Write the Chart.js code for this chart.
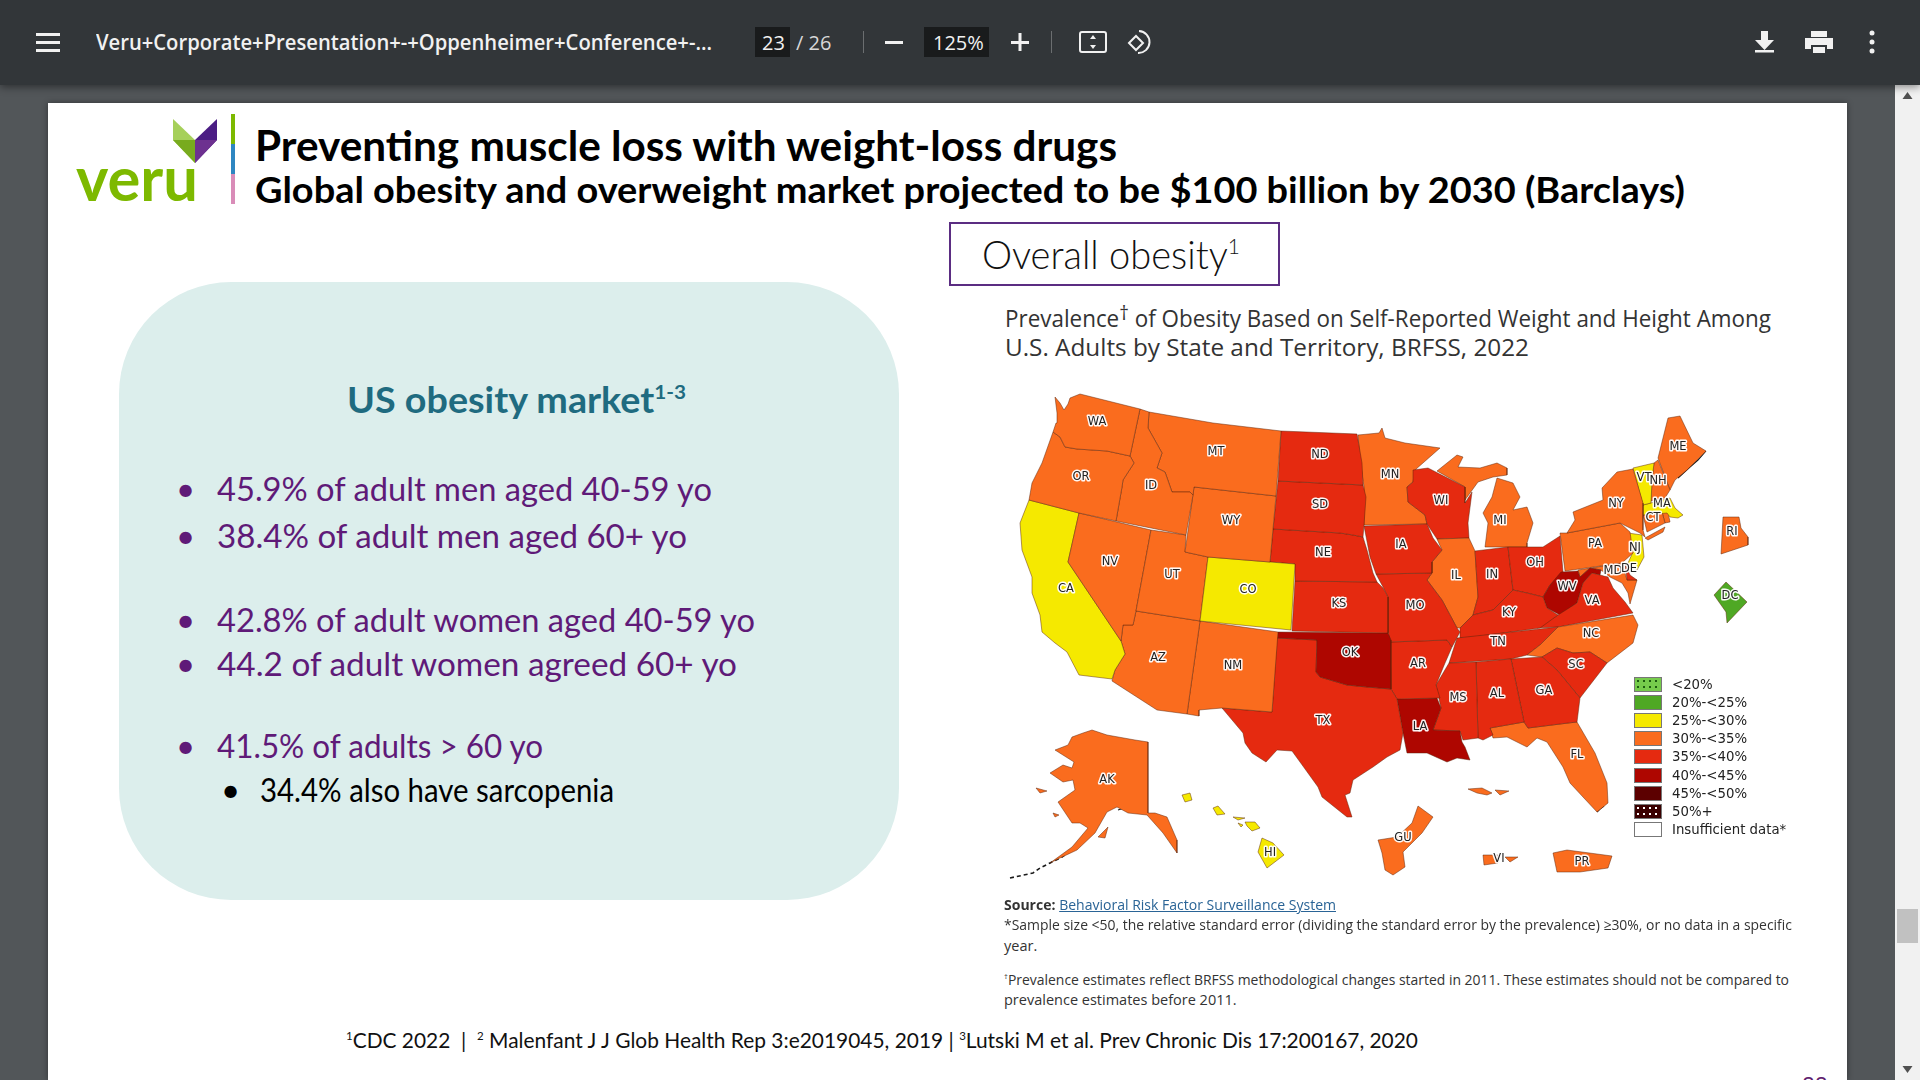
<!DOCTYPE html>
<html>
<head>
<meta charset="utf-8">
<title>Overall obesity</title>
<script src="https://cdn.jsdelivr.net/npm/chart.js@4.4.0/dist/chart.umd.js"></script>
<style>
html, body { margin: 0; width: 1920px; height: 1080px; overflow: hidden; background: #525659; }
.t { position: absolute; white-space: nowrap; line-height: 1; transform-origin: left center; }
.gothic { font-family: Lato, 'Noto Sans', sans-serif; }
.open { font-family: 'Open Sans', sans-serif; }
sup { font-size: 55%; line-height: 0; vertical-align: baseline; position: relative; top: -0.7em; }
sup.dag { font-size: 85%; top: -0.35em; }
#toolbar { position: absolute; left: 0; top: 0; width: 1920px; height: 85px; background: #323639; box-shadow: 0 2px 8px rgba(0,0,0,.45); z-index: 3; }
#toolbar .t { color: #f1f1f1; font-family: 'Open Sans', sans-serif; font-size: 20px; top: 33px; }
.box { position: absolute; top: 27px; height: 30px; background: #191b1c; }
.div { position: absolute; top: 31px; width: 1px; height: 22px; background: #6b6e70; }
#toolbar svg { position: absolute; left: 0; top: 0; }
#page { position: absolute; left: 48px; top: 103px; width: 1799px; height: 977px; background: #fff; box-shadow: 0 0 6px rgba(0,0,0,.4); }
#scroll { position: absolute; left: 1895px; top: 85px; width: 25px; height: 995px; background: #f1f1f1; z-index: 2; }
#thumb { position: absolute; left: 2px; top: 824px; width: 21px; height: 34px; background: #c1c1c1; }
#panel { position: absolute; left: 119px; top: 282px; width: 780px; height: 618px; border-radius: 112px; background: #dceeec; }
#frame { position: absolute; left: 949px; top: 222px; width: 327px; height: 60px; border: 2px solid #5b2d82; }
#mapWrap { position: absolute; left: 1000px; top: 380px; width: 800px; height: 520px; }
.sw { position: absolute; left: 1634px; width: 26px; height: 13px; border: 1px solid #777; }
.bar { position: absolute; left: 231px; width: 4px; }
.bullet { font-size: 33px; font-weight: 400; }
.src { font-size: 14.5px; color: #333; }
</style>
</head>
<body>
<div id="toolbar">
  <svg width="1920" height="85" fill="#f1f1f1">
    <rect x="36" y="33" width="24" height="3"/><rect x="36" y="41" width="24" height="3"/><rect x="36" y="49" width="24" height="3"/>
    <rect x="885" y="41" width="18" height="3"/>
    <rect x="1011" y="41" width="18" height="3"/><rect x="1018.5" y="33" width="3" height="18"/>
    <rect x="1080" y="32" width="26" height="20" rx="2" fill="none" stroke="#f1f1f1" stroke-width="2"/>
    <path d="M1093 35l-3 4h6zM1093 49l-3-4h6z"/>
    <path d="M1139 31a11 11 0 1 1 -1 22" fill="none" stroke="#f1f1f1" stroke-width="2"/>
    <path d="M1129 43l7-7 7 7-7 7z" fill="none" stroke="#f1f1f1" stroke-width="2"/>
    <path d="M1761 31h7v9h6l-9.500 10-9.500-10h6z"/><rect x="1755" y="50" width="19" height="2.500"/>
    <path d="M1811 31h16v6h-16zM1805 38h28v11h-6v-4h-16v4h-6zM1813 47h12v6h-12z"/>
    <circle cx="1872" cy="33" r="2.500"/><circle cx="1872" cy="42" r="2.500"/><circle cx="1872" cy="51" r="2.500"/>
  </svg>
  <div class="t" data-w="616" style="left:96px;font-size:21px;top:32px;font-weight:600">Veru+Corporate+Presentation+-+Oppenheimer+Conference+-...</div>
  <div class="box" style="left:755px;width:35px"></div>
  <div class="t" style="left:762px">23</div>
  <div class="t" style="left:796px;color:#d8d8d8">/ 26</div>
  <div class="div" style="left:863px"></div>
  <div class="box" style="left:924px;width:65px"></div>
  <div class="t" style="left:933px">125%</div>
  <div class="div" style="left:1051px"></div>
</div>

<div id="page"></div>
<div id="scroll">
  <div id="thumb"></div>
  <svg width="25" height="995" style="position:absolute;left:0;top:0" fill="#505050">
    <path d="M12.500 7l5 7h-10z"/><path d="M12.500 988l5-7h-10z"/>
  </svg>
</div>

<!-- logo -->
<svg width="240" height="110" style="position:absolute;left:0;top:110px">
  <path d="M173 9l22 21v23l-22-23z" fill="#a6d05a"/>
  <path d="M173 30h22v23z" fill="#78ab1e"/>
  <path d="M217 9l-22 21v23l22-23z" fill="#4b1d84"/>
  <path d="M217 30h-22v23z" fill="#6d3190"/>
</svg>
<div class="t" data-w="122" style="left:76px;top:146px;font:bold 62px/1 Lato,sans-serif;color:#7db900">veru</div>
<div class="bar" style="top:114px;height:30px;background:#7db900"></div>
<div class="bar" style="top:144px;height:30px;background:#2e86c1"></div>
<div class="bar" style="top:174px;height:30px;background:#d98cb8"></div>

<div class="t gothic" data-w="862" style="left:255px;top:124px;font-size:42px;font-weight:700;color:#000">Preventing muscle loss with weight-loss drugs</div>
<div class="t gothic" data-w="1430" style="left:255px;top:170px;font-size:37px;font-weight:700;color:#000">Global obesity and overweight market projected to be $100 billion by 2030 (Barclays)</div>

<div id="frame"></div>
<div class="t gothic" data-w="258" style="left:982px;top:235px;font-size:39px;font-weight:300;color:#111">Overall obesity<sup>1</sup></div>

<div id="panel"></div>
<div class="t gothic" data-w="339" style="left:347px;top:381px;font-size:36px;font-weight:700;color:#1f6b80">US obesity market<sup>1-3</sup></div>
<div id="bullets"></div>

<div class="t open" data-w="766" style="left:1005px;top:307px;font-size:23px;color:#333">Prevalence<sup class="dag">†</sup> of Obesity Based on Self-Reported Weight and Height Among</div>
<div class="t open" data-w="524" style="left:1005px;top:336px;font-size:23px;color:#333">U.S. Adults by State and Territory, BRFSS, 2022</div>

<div id="mapWrap"><canvas id="mapChart" width="800" height="520"></canvas></div>
<div id="legendBox"></div>

<div class="t open src" data-w="332" style="left:1004px;top:898px"><b>Source:</b> <span style="color:#2a6496;text-decoration:underline">Behavioral Risk Factor Surveillance System</span></div>
<div class="t open src" data-w="788" style="left:1004px;top:918px">*Sample size &lt;50, the relative standard error (dividing the standard error by the prevalence) ≥30%, or no data in a specific</div>
<div class="t open src" style="left:1004px;top:939px">year.</div>
<div class="t open src" data-w="785" style="left:1004px;top:973px"><sup>†</sup>Prevalence estimates reflect BRFSS methodological changes started in 2011. These estimates should not be compared to</div>
<div class="t open src" style="left:1004px;top:993px">prevalence estimates before 2011.</div>

<div class="t gothic" data-w="1072" style="left:346px;top:1029px;font-size:22px;font-weight:400;color:#111"><sup>1</sup>CDC 2022 &nbsp;|&nbsp; <sup>2</sup> Malenfant J J Glob Health Rep 3:e2019045, 2019 | <sup>3</sup>Lutski M et al. Prev Chronic Dis 17:200167, 2020</div>
<div class="t gothic" style="left:1802px;top:1073px;font-size:22px;color:#5f2170">23</div>

<script>
// ─── Data ───────────────────────────────────────────────────
const legendLabels = ['<20%', '20%-<25%', '25%-<30%', '30%-<35%', '35%-<40%', '40%-<45%', '45%-<50%', '50%+', 'Insufficient data*'];
const bandColors = ['#76cc4c', '#4fa824', '#f5e900', '#fa6c1e', '#e52a10', '#ae0600', '#5c0000', '#3a0000', '#ffffff'];

const bulletLines = [
    '45.9% of adult men aged 40-59 yo',
    '38.4% of adult men aged 60+ yo',
    '42.8% of adult women aged 40-59 yo',
    '44.2 of adult women agreed 60+ yo',
    '41.5% of adults > 60 yo'
];
const subBullet = '34.4% also have sarcopenia';

// outlines in map units, as flat x,y lists
const WA = [1055,397,1060,403,1064,410,1068,404,1070,398,1080,394,1140,409,1130,456,1107,451,1077,449,1065,447,1060,437,1053,432,1056,423,1057,413];
const OR = [1053,432,1060,437,1065,447,1077,449,1107,451,1130,456,1134,463,1123,480,1122,487,1116,521,1079,513,1029,500,1032,483,1042,463];
const ID = [1140,409,1149,412,1148,428,1162,453,1157,468,1165,472,1172,492,1190,492,1193,495,1186,535,1116,521,1122,487,1123,480,1134,463,1130,456];
const MT = [1149,412,1213,423,1281,431,1276,496,1194,487,1193,495,1190,492,1172,492,1165,472,1157,468,1162,453,1148,428];
const WY = [1194,487,1276,496,1270,562,1208,557,1185,552];
const CO = [1208,557,1295,564,1291,630,1200,621];
const UT = [1151,530,1186,535,1185,552,1208,557,1200,621,1136,611];
const NV = [1079,513,1151,530,1136,611,1133,625,1123,625,1121,641,1068,562];
const CA = [1029,500,1079,513,1068,562,1121,641,1125,654,1115,670,1112,679,1079,675,1067,652,1055,643,1042,632,1040,615,1032,593,1032,577,1022,550,1020,523];
const AZ = [1123,625,1133,625,1136,611,1200,621,1187,714,1157,710,1112,681,1115,670,1125,654,1121,641];
const NM = [1200,621,1278,632,1272,712,1222,708,1199,710,1199,716,1187,714];
const ND = [1281,431,1357,434,1362,463,1363,485,1278,481];
const SD = [1278,481,1363,485,1366,497,1364,525,1363,537,1353,535,1340,533,1273,529];
const NE = [1273,529,1340,533,1353,535,1363,537,1367,550,1373,573,1377,582,1295,581,1295,564,1270,562];
const KS = [1295,581,1377,582,1383,588,1388,597,1388,633,1292,631];
const OK = [1278,632,1388,633,1391,640,1391,689,1367,687,1347,685,1320,677,1316,672,1317,640,1277,638];
const TX = [1277,638,1317,640,1316,672,1320,677,1347,685,1367,687,1391,689,1397,699,1403,733,1400,750,1387,757,1373,767,1353,780,1350,793,1345,795,1352,817,1347,817,1322,797,1318,787,1300,762,1292,751,1277,750,1266,762,1252,753,1245,743,1243,733,1222,708,1272,712];
const IA = [1364,526,1427,524,1433,538,1442,550,1432,562,1432,573,1376,574,1370,557];
const MO = [1376,574,1432,573,1427,580,1442,600,1457,628,1460,632,1452,647,1447,640,1390,642,1388,632,1388,597,1383,587];
const AR = [1390,642,1447,640,1452,647,1445,663,1436,685,1440,698,1397,699,1391,689];
const LA = [1397,699,1437,698,1441,708,1433,730,1460,731,1462,742,1465,747,1470,760,1457,758,1447,762,1427,753,1407,753,1403,733];
const MS = [1449,663,1476,662,1478,738,1463,740,1460,731,1433,730,1441,708,1436,685];
const AL = [1476,662,1511,659,1524,722,1490,728,1493,735,1483,740,1478,738];
const GA = [1511,659,1542,657,1557,670,1580,698,1577,722,1568,723,1528,728,1524,722];
const SC = [1542,657,1557,648,1573,653,1590,652,1607,663,1590,685,1580,698,1557,670];
const FL = [1490,728,1524,722,1528,728,1568,723,1577,722,1595,753,1607,783,1608,803,1597,812,1583,797,1570,783,1563,767,1547,742,1537,738,1527,747,1507,737,1493,738];
const NC = [1527,655,1540,645,1558,627,1633,615,1638,625,1633,643,1607,663,1590,652,1573,653,1557,648,1542,657];
const TN = [1457,638,1558,627,1540,645,1527,655,1511,659,1449,663];
const KY = [1460,628,1473,615,1493,610,1513,590,1527,593,1543,597,1547,608,1558,615,1540,628,1474,637,1460,638];
const VA = [1537,628,1558,615,1577,603,1583,583,1592,573,1600,575,1608,577,1613,588,1625,602,1633,613,1558,627];
const WV = [1543,597,1550,585,1561,572,1578,571,1580,577,1590,568,1601,570,1600,575,1592,573,1583,583,1577,603,1560,615,1547,608];
const OH = [1508,547,1527,547,1543,547,1560,536,1563,572,1550,585,1543,597,1527,593,1513,590];
const IN = [1475,551,1508,547,1513,590,1493,610,1473,615,1478,597];
const IL = [1437,539,1469,538,1475,551,1478,597,1473,615,1460,628,1457,628,1442,600,1427,580,1432,573,1432,562,1442,550];
const WI = [1413,470,1428,468,1465,487,1465,503,1472,492,1468,523,1469,538,1437,539,1427,524,1425,515,1408,502,1407,487,1413,482];
const MN = [1358,435,1379,433,1382,428,1385,438,1405,443,1440,448,1415,470,1413,482,1407,487,1408,502,1425,515,1427,524,1364,525,1364,487,1360,460];
const MIupper = [1437,471,1457,455,1463,457,1458,467,1480,468,1497,463,1507,468,1507,475,1493,477,1478,482,1465,500,1465,487];
const MIlower = [1497,478,1513,483,1520,497,1513,510,1527,507,1533,523,1527,543,1527,547,1485,547,1488,523,1483,513,1492,497];
const NY = [1633,469,1643,503,1643,530,1645,537,1640,533,1620,523,1567,533,1575,520,1573,512,1603,500,1602,488,1617,472];
const longIsland = [1645,538,1665,527,1663,532,1648,540];
const PA = [1560,533,1567,533,1620,523,1630,532,1633,553,1622,563,1565,571];
const NJ = [1628,533,1642,535,1644,557,1637,570,1628,563,1633,552];
const DE = [1625,563,1630,575,1637,580,1627,580];
const MD = [1578,570,1622,563,1627,580,1637,580,1630,604,1628,593,1622,583,1610,577,1601,570,1590,568,1580,577];
const VT = [1633,468,1654,463,1652,480,1651,503,1643,505];
const NH = [1654,463,1658,460,1670,490,1665,498,1651,501,1652,480];
const ME = [1658,458,1668,418,1680,416,1693,443,1706,451,1687,470,1675,480,1670,490];
const MA = [1643,505,1670,498,1675,508,1683,515,1678,518,1670,517,1667,513,1643,515];
const CT = [1643,515,1662,512,1665,523,1647,532];
const RI = [1662,512,1668,512,1670,522,1665,523];
const RIinset = [1723,517,1739,517,1741,528,1748,537,1748,545,1742,547,1721,554];
const DCinset = [1726,582,1747,602,1727,623,1726,612,1714,595];
const AK = [1092,730,1107,735,1135,740,1148,742,1148,813,1155,813,1167,817,1177,840,1177,853,1163,833,1147,815,1128,813,1117,807,1107,812,1095,833,1077,850,1060,858,1050,863,1072,847,1088,828,1080,823,1072,823,1068,817,1058,802,1075,790,1073,780,1063,782,1050,773,1063,765,1072,768,1074,762,1055,750,1068,745,1072,737,1083,733];
const kodiak = [1098,837,1108,827,1105,838];
const stLawrence = [1036,788,1047,791,1040,793];
const nunivak = [1053,813,1059,815,1055,817];
const bigIsland = [1262,838,1273,843,1284,855,1267,868,1258,852];
const maui = [1245,822,1255,822,1260,828,1252,831,1247,826];
const molokai = [1233,817,1245,818,1238,820];
const lanai = [1238,823,1243,825,1241,827];
const oahu = [1213,808,1218,806,1225,814,1217,815];
const kauai = [1182,795,1190,793,1192,800,1185,802];
const GU = [1418,806,1433,817,1422,833,1403,852,1405,867,1393,875,1385,870,1382,853,1378,840,1397,837,1412,823];
const VImain = [1483,855,1498,855,1498,863,1484,865];
const VIeast = [1505,857,1518,857,1510,862];
const PR = [1553,853,1567,850,1612,856,1608,868,1580,872,1557,872];
const isleWest = [1468,789,1482,788,1492,793,1487,795,1477,793];
const isleEast = [1495,790,1509,791,1500,795];

const shapeLists = [WA,OR,ID,MT,WY,CO,UT,NV,CA,AZ,NM,ND,SD,NE,KS,OK,TX,IA,MO,AR,LA,MS,AL,GA,SC,FL,NC,TN,KY,VA,WV,OH,IN,IL,WI,MN,MIupper,MIlower,NY,longIsland,PA,NJ,DE,MD,VT,NH,ME,MA,CT,RI,RIinset,DCinset,AK,kodiak,stLawrence,nunivak,bigIsland,maui,molokai,lanai,oahu,kauai,GU,VImain,VIeast,PR,isleWest,isleEast];
// legend band per shape, same order as shapeLists
const shapeBands = [3,3,3,3,3,2,3,3,2,3,3,4,4,4,4,5,4,4,4,4,5,4,4,4,4,3,3,4,4,4,5,4,4,3,4,3,3,3,3,3,3,2,4,3,2,3,3,2,3,3,3,1,3,3,3,3,2,2,2,2,2,2,3,3,3,3,3,3];

// dark coast scribbles (fjords, island chains)
const pugetSound = [1075,397,1078,403,1072,417,1068,420,1075,422,1078,410];
const aleutians = [1010,878,1033,873,1040,868,1050,863,1062,857,1072,850,1080,846];
const alaskaSouth = [1163,818,1168,826,1172,835,1176,850];
const princeWilliam = [1118,810,1124,808,1129,812];
const mainePoints = [1706,451,1698,460,1690,467,1678,478];
const floridaKeys = [1597,812,1600,809,1604,806];
const detailLines = [pugetSound, aleutians, alaskaSouth, princeWilliam, mainePoints, floridaKeys];

const labelCodes = ['WA','OR','ID','MT','ND','SD','WY','NE','UT','NV','CA','CO','KS','AZ','NM','OK','MN','IA','MO','AR','WI','IL','MI','IN','OH','KY','TN','WV','VA','PA','NY','VT','NH','ME','MA','CT','NJ','MD','DE','RI','DC','NC','SC','MS','AL','GA','LA','FL','TX','AK','HI','GU','VI','PR'];
const labelX = [1097,1081,1151,1216,1320,1320,1231,1323,1172,1110,1066,1248,1339,1158,1233,1350,1390,1401,1415,1418,1441,1456,1500,1492,1535,1509,1498,1567,1592,1595,1616,1644,1658,1678,1662,1653,1635,1613,1629,1732,1730,1591,1576,1458,1497,1544,1420,1577,1323,1107,1270,1403,1499,1582];
const labelY = [422,477,486,452,455,505,521,553,575,562,589,590,604,658,666,653,475,545,606,664,501,576,521,575,563,613,642,587,601,544,504,478,481,447,504,518,548,571,569,532,596,634,665,698,694,691,727,755,721,780,853,838,859,862];

// ─── Map ────────────────────────────────────────────────────
function toPoints(flat, closed) {
    const pts = [];
    for (let i = 0; i < flat.length; i += 2) pts.push({ x: flat[i], y: flat[i + 1] });
    if (closed) pts.push(pts[0]);
    return pts;
}

const stateLabels = {
    id: 'stateLabels',
    afterDatasetsDraw(chart) {
        const { ctx, scales } = chart;
        ctx.save();
        ctx.font = "11.5px 'DejaVu Sans', sans-serif";
        ctx.textAlign = 'center';
        ctx.textBaseline = 'middle';
        ctx.lineJoin = 'round';
        labelCodes.forEach((code, i) => {
            const px = scales.x.getPixelForValue(labelX[i]);
            const py = scales.y.getPixelForValue(labelY[i]);
            ctx.lineWidth = 3;
            ctx.strokeStyle = 'rgba(255,255,255,.95)';
            ctx.strokeText(code, px, py);
            ctx.fillStyle = '#222';
            ctx.fillText(code, px, py);
        });
        ctx.restore();
    }
};

const datasets = shapeLists.map((flat, i) => ({
    data: toPoints(flat, true),
    showLine: true,
    fill: 'shape',
    tension: 0,
    pointRadius: 0,
    borderWidth: 0.8,
    borderColor: 'rgba(90,35,10,.6)',
    backgroundColor: bandColors[shapeBands[i]]
}));
detailLines.forEach(flat => datasets.push({
    data: toPoints(flat, false),
    showLine: true,
    fill: false,
    tension: 0,
    pointRadius: 0,
    borderWidth: flat === aleutians ? 1.6 : 1.1,
    borderDash: flat === aleutians ? [4, 3] : [],
    borderColor: '#1a1a1a'
}));

new Chart(document.getElementById('mapChart'), {
    type: 'scatter',
    data: { datasets },
    options: {
        responsive: false,
        animation: false,
        events: [],
        layout: { padding: 0 },
        plugins: { legend: { display: false }, tooltip: { enabled: false } },
        scales: {
            x: { type: 'linear', min: 1000, max: 1800, display: false },
            y: { type: 'linear', min: 380, max: 900, reverse: true, display: false }
        }
    },
    plugins: [stateLabels]
});

// ─── Legend + bullets ───────────────────────────────────────
const legendBox = document.getElementById('legendBox');
legendLabels.forEach((label, i) => {
    const top = 677 + i * 18.1;
    const sw = document.createElement('div');
    sw.className = 'sw';
    sw.style.top = top + 'px';
    sw.style.background = bandColors[i];
    if (i === 0) sw.style.background = 'radial-gradient(circle, #1d5c10 1px, transparent 1.5px) 0 0/6px 6px, ' + bandColors[i];
    if (i === 7) sw.style.background = 'radial-gradient(circle, #fff 1px, transparent 1.5px) 0 0/6px 6px, ' + bandColors[i];
    legendBox.appendChild(sw);
    const txt = document.createElement('div');
    txt.className = 't';
    txt.textContent = label;
    txt.style.cssText = `left:1672px;top:${top}px;font:13.300px/15px 'DejaVu Sans',sans-serif;color:#222`;
    legendBox.appendChild(txt);
});

const bulletY = [489, 536, 620, 664, 746];
const bulletW = [495, 470, 538, 520, 326];
const bullets = document.getElementById('bullets');
function addBullet(text, x, dotX, y, w, color) {
    const dot = document.createElement('div');
    dot.className = 't gothic bullet';
    dot.textContent = '•';
    dot.style.cssText = `left:${dotX}px;top:${y - 17}px;color:${color}`;
    bullets.appendChild(dot);
    const line = document.createElement('div');
    line.className = 't gothic bullet';
    line.textContent = text;
    line.dataset.w = w;
    line.style.cssText = `left:${x}px;top:${y - 17}px;color:${color}`;
    bullets.appendChild(line);
}
bulletLines.forEach((text, i) => addBullet(text, 217, 176, bulletY[i], bulletW[i], '#5f1a78'));
addBullet(subBullet, 260, 221, 790, 354, '#000');

// squeeze text to the measured width of the slide fonts
document.querySelectorAll('[data-w]').forEach(el => {
    const w = el.getBoundingClientRect().width;
    el.style.transform = `scaleX(${el.dataset.w / w})`;
});
</script>
</body>
</html>
